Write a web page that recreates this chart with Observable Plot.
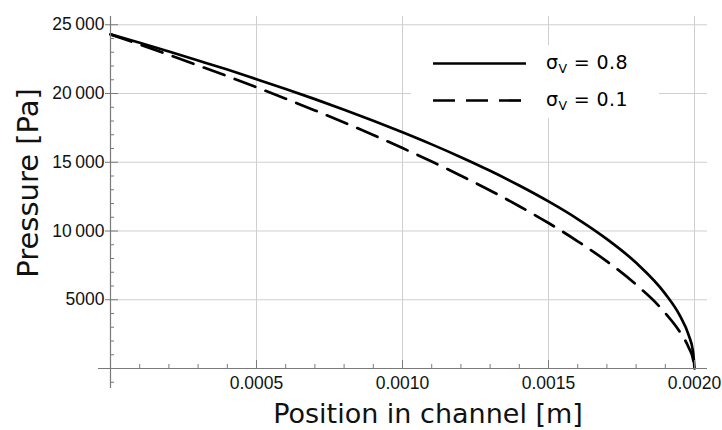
<!DOCTYPE html>
<html>
<head>
<meta charset="utf-8">
<script src="https://cdn.jsdelivr.net/npm/d3@7"></script>
<script src="https://cdn.jsdelivr.net/npm/@observablehq/plot@0.6"></script>
<style>
  html, body { margin: 0; padding: 0; background: #fff; }
  svg { display: block; }
</style>
</head>
<body>
<div id="chart"></div>
<script>
// Position in channel [m]
const position = [0, 0.0001, 0.0002, 0.0003, 0.0004, 0.0005, 0.0006, 0.0007, 0.0008, 0.0009,
  0.0010, 0.0011, 0.0012, 0.0013, 0.0014, 0.0015, 0.0016, 0.0017, 0.0018, 0.0019,
  0.00195, 0.00198, 0.001995, 0.0020];
// Pressure [Pa], sigma_V = 0.8 (solid)
const pressureSigma08 = [24300, 23690, 23050, 22400, 21740, 21040, 20330, 19590, 18820, 18020,
  17180, 16300, 15370, 14380, 13310, 12150, 10870, 9410, 7690, 5430,
  3840, 2430, 1220, 0];
// Pressure [Pa], sigma_V = 0.1 (dashed)
const pressureSigma01 = [24300, 23570, 22810, 22040, 21260, 20450, 19620, 18770, 17890, 16980,
  16030, 15050, 14020, 12950, 11800, 10580, 9250, 7790, 6100, 4030,
  2660, 1530, 670, 0];

const seriesLabels = ["0.8", "0.1"];
const xTickValues = [0.0005, 0.0010, 0.0015, 0.0020];
const xTickLabels = ["0.0005", "0.0010", "0.0015", "0.0020"];
const yTickValues = [5000, 10000, 15000, 20000, 25000];
const yTickLabels = ["5000", "10\u2009000", "15\u2009000", "20\u2009000", "25\u2009000"];
const xTitle = "Position in channel [m]";
const yTitle = "Pressure [Pa]";
const xMinorTicks = d3.range(1, 21).map(i => i / 10000).filter(v => Math.round(v * 10000) % 5 !== 0);
const yMinorTicks = d3.range(-1, 26).map(i => i * 1000).filter(v => v % 5000 !== 0);

const solidData = position.map((x, i) => ({x, p: pressureSigma08[i]}));
const dashedData = position.map((x, i) => ({x, p: pressureSigma01[i]}));

const W = 722, H = 430;
const mL = 110, mR = 15, mT = 16, mB = 62;
const xDomain = [0, 0.0020445];
const yDomain = [0, 25600];
const xpp = (xDomain[1] - xDomain[0]) / (W - mL - mR); // data units per px
const ypp = (yDomain[1] - yDomain[0]) / (H - mT - mB);

const axisColor = "#7a7a7a";
const gridColor = "#cfcfcf";
const tickFont = "'Liberation Sans', Arial, sans-serif";
const titleFont = "'DejaVu Sans', sans-serif";

function overlayMark() {
  const g = d3.create("svg:g");
  // legend box
  g.append("rect").attr("x", 411).attr("y", 45).attr("width", 248).attr("height", 73).attr("fill", "#fff");
  const items = [
    {y: 63.5, dash: null, label: seriesLabels[0]},
    {y: 100.5, dash: "22,11", label: seriesLabels[1]}
  ];
  for (const it of items) {
    const line = g.append("line").attr("x1", 433).attr("x2", 526).attr("y1", it.y).attr("y2", it.y)
      .attr("stroke", "#000").attr("stroke-width", 2.7);
    if (it.dash) line.attr("stroke-dasharray", it.dash);
    const t = g.append("text").attr("x", 546).attr("y", it.y + 5)
      .attr("text-anchor", "start")
      .attr("font-family", titleFont).attr("font-size", 19).attr("letter-spacing", 0.4).attr("fill", "#000");
    t.append("tspan").text("σ");
    t.append("tspan").attr("font-size", 12.5).attr("dy", 4).text("V");
    t.append("tspan").attr("dy", -4).text(" = " + it.label);
  }
  // axis titles
  g.append("text").attr("x", 428).attr("y", 423).attr("text-anchor", "middle")
    .attr("font-family", titleFont).attr("font-size", 27).attr("fill", "#111").text(xTitle);
  g.append("text").attr("transform", "translate(38,183) rotate(-90)").attr("text-anchor", "middle")
    .attr("font-family", titleFont).attr("font-size", 29).attr("fill", "#111").text(yTitle);
  return g.node();
}

const chart = Plot.plot({
  width: W,
  height: H,
  marginLeft: mL, marginRight: mR, marginTop: mT, marginBottom: mB,
  x: {domain: xDomain, axis: null},
  y: {domain: yDomain, axis: null},
  style: {background: "#fff"},
  marks: [
    // grid
    Plot.ruleY(yTickValues, {x1: 0, x2: xDomain[1], stroke: gridColor, strokeWidth: 1}),
    Plot.ruleX(xTickValues, {y1: 0, y2: yDomain[1], stroke: gridColor, strokeWidth: 1}),
    // curves
    Plot.line(solidData, {x: "x", y: "p", stroke: "#000", strokeWidth: 2.7, curve: "monotone-x"}),
    Plot.line(dashedData, {x: "x", y: "p", stroke: "#000", strokeWidth: 2.7, strokeDasharray: "22,11", curve: "monotone-x"}),
    // axes lines
    Plot.ruleY([0], {x1: -12 * xpp, x2: xDomain[1], stroke: axisColor, strokeWidth: 1.2}),
    Plot.ruleX([0], {y1: -20 * ypp, y2: yDomain[1], stroke: axisColor, strokeWidth: 1.2}),
    // ticks
    Plot.ruleY(yMinorTicks, {x1: 0, x2: 4 * xpp, stroke: axisColor}),
    Plot.ruleY(yTickValues, {x1: -5 * xpp, x2: 8 * xpp, stroke: axisColor}),
    Plot.ruleX(xMinorTicks, {y1: 0, y2: 4 * ypp, stroke: axisColor}),
    Plot.ruleX(xTickValues, {y1: 0, y2: 8 * ypp, stroke: axisColor}),
    // tick labels
    Plot.text(yTickValues, {x: 0, y: d => d, text: (d, i) => yTickLabels[i], textAnchor: "end", dx: -6,
      fontSize: 17.5, fontFamily: tickFont, fill: "#111"}),
    Plot.text(xTickValues, {x: d => d, y: 0, text: (d, i) => xTickLabels[i], lineAnchor: "top", dy: 8,
      fontSize: 17.5, fontFamily: tickFont, fill: "#111"}),
    overlayMark
  ]
});
document.getElementById("chart").appendChild(chart);
</script>
</body>
</html>
